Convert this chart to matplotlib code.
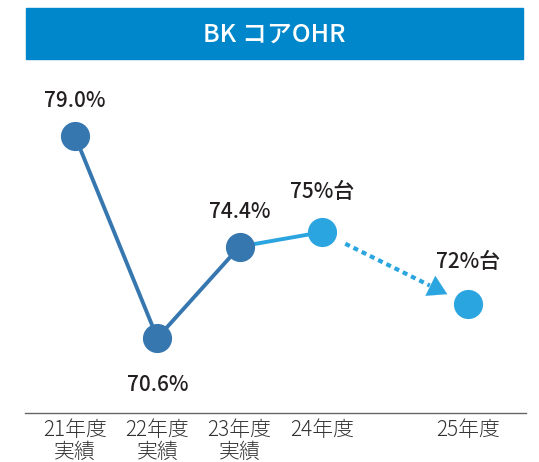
import matplotlib.pyplot as plt
from matplotlib.patches import Rectangle

# data
years = ['21年度\n実績', '22年度\n実績', '23年度\n実績', '24年度', '25年度']
xpos = [0, 1, 2, 3, 4.77]
ohr = [79.0, 70.6, 74.4, 75.0, 72.0]
labels = ['79.0%', '70.6%', '74.4%', '75%台', '72%台']

DARK = '#3777b0'
LIGHT = '#2ba5df'
BAR = '#0086ca'
TXT = '#231f20'

plt.rcParams['font.family'] = ['Noto Sans CJK JP', 'DejaVu Sans']

fig = plt.figure(figsize=(5.39, 4.62), dpi=100)
W, H = 539, 462

# title bar
fig.patches.append(Rectangle((26 / W, 1 - 59 / H), 497 / W, 51 / H,
                             transform=fig.transFigure, color=BAR, zorder=0))
fig.text(274 / W, 1 - 35 / H, 'BK コアOHR', color='white', fontsize=18,
         fontweight='medium', ha='center', va='center')

ax = fig.add_axes([25 / W, 49 / H, 501 / W, 353 / H])
ax.set_xlim(-0.607, 5.478)
ax.set_ylim(67.48, 82.16)

# actual results (dark) and plan (light)
ax.plot(xpos[:3], ohr[:3], color=DARK, lw=2.8, zorder=2)
ax.plot(xpos[2:4], ohr[2:4], color=LIGHT, lw=2.8, zorder=2)
ax.plot(xpos[:3], ohr[:3], 'o', color=DARK, ms=21, mec='none', zorder=3)
ax.plot(xpos[3:], ohr[3:], 'o', color=LIGHT, ms=21, mec='none', zorder=3)

# dotted arrow 24 -> 25
def lerp(f):
    return (xpos[3] + f * (xpos[4] - xpos[3]), ohr[3] + f * (ohr[4] - ohr[3]))

s, e, t = lerp(0.16), lerp(0.74), lerp(0.86)
ax.plot([s[0], e[0]], [s[1], e[1]], color=LIGHT, lw=3, dashes=(1.2, 1.0), zorder=2)
ax.annotate('', xy=t, xytext=lerp(0.68),
            arrowprops=dict(arrowstyle='-|>,head_length=1.35,head_width=0.8',
                            color=LIGHT, lw=0.1, shrinkA=0, shrinkB=0))

# value labels
offs = [1.45, -1.95, 1.45, 1.65, 1.75]
for x, y, lab, o in zip(xpos, ohr, labels, offs):
    ax.text(x, y + o, lab, ha='center', va='center', fontsize=15,
            fontweight='medium', color=TXT)

for sp in ['top', 'right', 'left']:
    ax.spines[sp].set_visible(False)
ax.spines['bottom'].set_color('#666666')
ax.spines['bottom'].set_linewidth(1)
ax.set_yticks([])
ax.set_xticks(xpos)
ax.set_xticklabels(years, fontsize=15, fontweight='light', color='#333333',
                   linespacing=1.0, va='top')
ax.tick_params(axis='x', length=0, pad=4)

fig.savefig('out.png', dpi=100)
